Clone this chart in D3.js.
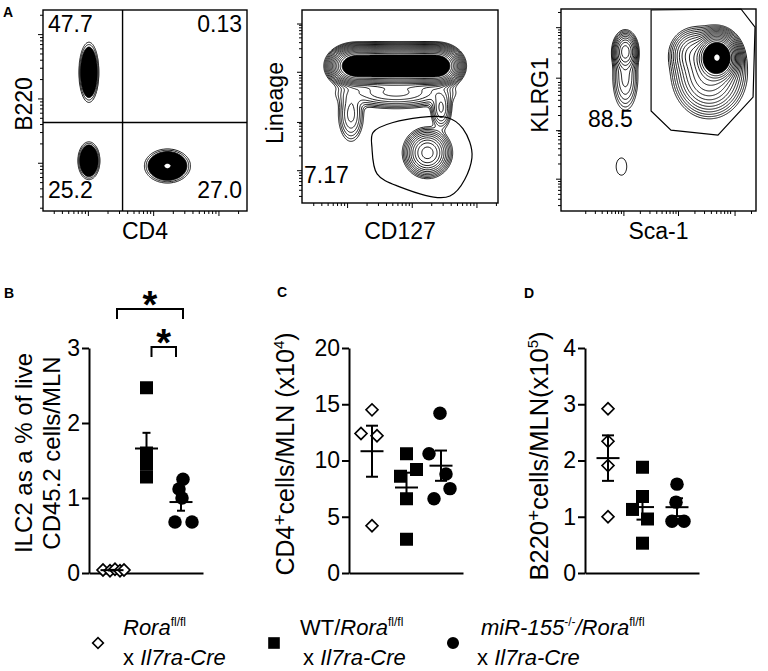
<!DOCTYPE html>
<html>
<head>
<meta charset="utf-8">
<script src="https://d3js.org/d3.v7.min.js"></script>
<style>
body { margin: 0; background: #fff; }
svg text { font-family: "Liberation Sans", Arial, sans-serif; fill: #000; }
</style>
</head>
<body>
<div id="canvas"></div>
<script>
// ---- values ----
const groups = ["Rora fl/fl", "WT/Rora fl/fl", "miR-155-/-/Rora fl/fl"];

// B: ILC2 as a % of live CD45.2 cells/MLN
const ilc2Rora = [0.04, 0.03, 0.05, 0.03, 0.04];
const ilc2WT   = [2.47, 1.60, 1.50, 1.45, 1.28];
const ilc2Mir  = [1.25, 1.12, 1.00, 0.68, 0.68];
const ilc2Ticks = [0, 1, 2, 3];

// C: CD4+ cells/MLN (x10^4)
const cd4Rora = [14.5, 12.4, 12.2, 4.2];
const cd4WT   = [10.6, 8.6, 9.2, 6.6, 3.0];
const cd4Mir  = [14.2, 10.6, 8.8, 7.5, 6.6];
const cd4Ticks = [0, 5, 10, 15, 20];

// D: B220+ cells/MLN (x10^5)
const b220Rora = [2.92, 2.34, 1.91, 1.00];
const b220WT   = [1.88, 1.36, 1.13, 0.96, 0.53];
const b220Mir  = [1.58, 1.26, 0.92, 0.92];
const b220Ticks = [0, 1, 2, 3, 4];

// B: significance brackets (group index pairs)
const sigPairs = [[0, 2], [1, 2]];

// A: gate percentages
const quadLabels = ["47.7", "0.13", "25.2", "27.0"];
const linNegLabel = "7.17";
const klrgLabel = "88.5";

// A: populations as [x, y, sdX, sdY, weight] on a 0-100 display scale
const popsB220CD4 = [[22.5, 69, 1.4, 4.3, 0.85], [22.5, 25, 1.55, 2.7, 0.85], [61, 22.4, 3.2, 2.4, 1]];
const popsLinCD127 = [
  [27, 71, 4.5, 3.5, 1], [36, 71, 5, 3.5, 1], [45, 71, 5, 3.5, 1], [54, 71, 5, 3.5, 1],
  [63, 71, 5, 3.5, 1], [70, 71, 4, 3.5, 0.8],
  [48, 57, 13, 3.5, 0.03], [25, 46, 3.2, 7, 0.015], [71, 49, 2.5, 5, 0.02],
  [64, 26, 4.6, 4.8, 0.1]
];
const popsKlrgSca = [
  [33, 79, 2.6, 4, 0.07], [33, 66, 3.2, 8, 0.015], [31, 22, 3.5, 5.5, 0.0027],
  [80, 76, 3.8, 4.2, 1.66], [76, 68, 7, 8, 0.1], [68, 78, 5, 5, 0.04]
];

// A: gates
const quadCut = [39, 44];
const gateLin = [[36.2, 36.5], [46.4, 41.7], [74.0, 44.3], [82.1, 38.5], [86.7, 23.4],
                 [75.5, 3.6], [48.5, 8.9], [38.3, 15.1], [35.7, 28.6]];
const gateKlrg = [[46.2, 99.5], [92.3, 100], [99.5, 91], [98.5, 56.4], [80.5, 37.6],
                  [56.4, 40], [46.2, 49.5]];

// ---- layout ----
const W = 768, H = 671;
const svg = d3.select("#canvas").append("svg").attr("width", W).attr("height", H);

function panelLetter(t, x, y) {
  svg.append("text").text(t).attr("x", x).attr("y", y)
    .attr("font-size", 14).attr("font-weight", "bold");
}

function logTicks(majors, dec) {
  const out = [];
  const starts = [majors[0] - dec].concat(majors);
  starts.forEach(m => { for (let k = 2; k <= 9; k++) out.push(m + dec * Math.log10(k)); });
  return out.filter(v => v > 0.5 && v < 99.5);
}

function flowPanel(box, pops, levels, fillFrom, whiteFrom, tk) {
  const g = svg.append("g");
  const x = d3.scaleLinear().domain([0, 100]).range([box.x0, box.x1]);
  const y = d3.scaleLinear().domain([0, 100]).range([box.y1, box.y0]);
  const n = 200;
  const grid = new Float64Array(n * n);
  for (let j = 0; j < n; j++) for (let i = 0; i < n; i++) {
    const u = (i + 0.5) * 100 / n, v = (j + 0.5) * 100 / n;
    let s = 0;
    for (const p of pops) {
      const dx = (u - p[0]) / p[2], dy = (v - p[1]) / p[3];
      s += p[4] * Math.exp(-0.5 * (dx * dx + dy * dy));
    }
    grid[j * n + i] = s;
  }
  const id = "clip" + Math.round(box.x0);
  svg.append("clipPath").attr("id", id).append("rect")
    .attr("x", box.x0).attr("y", box.y0).attr("width", box.x1 - box.x0).attr("height", box.y1 - box.y0);
  const proj = d3.geoTransform({ point(px, py) { this.stream.point(x(px * 100 / n), y(py * 100 / n)); } });
  g.append("g").attr("clip-path", `url(#${id})`).selectAll("path")
    .data(d3.contours().size([n, n]).thresholds(levels)(grid))
    .join("path")
    .attr("d", d3.geoPath(proj))
    .attr("fill", d => d.value >= whiteFrom ? "#fff" : d.value >= fillFrom ? "#000" : "none")
    .attr("stroke", d => d.value >= whiteFrom ? "none" : "#000")
    .attr("stroke-width", 0.9).attr("stroke-linejoin", "round");

  // log-style ticks, major and minor
  [[tk.mx, 5], [logTicks(tk.mx, tk.dx), 3]].forEach(([vals, size]) => {
    g.append("g").attr("transform", `translate(0,${box.y1})`)
      .call(d3.axisBottom(x).tickValues(vals).tickSize(size).tickFormat(""))
      .call(a => a.select(".domain").remove())
      .selectAll("line").attr("stroke-width", 1);
  });
  [[tk.my, 5], [logTicks(tk.my, tk.dy), 3]].forEach(([vals, size]) => {
    g.append("g").attr("transform", `translate(${box.x0},0)`)
      .call(d3.axisLeft(y).tickValues(vals).tickSize(size).tickFormat(""))
      .call(a => a.select(".domain").remove())
      .selectAll("line").attr("stroke-width", 1);
  });
  g.append("rect").attr("x", box.x0).attr("y", box.y0)
    .attr("width", box.x1 - box.x0).attr("height", box.y1 - box.y0)
    .attr("fill", "none").attr("stroke", "#000").attr("stroke-width", 1.4);

  g.append("text").text(box.xl).attr("x", (box.x0 + box.x1) / 2).attr("y", 239)
    .attr("text-anchor", "middle").attr("font-size", 23);
  g.append("text").text(box.yl).attr("transform", `translate(${box.yx},${box.yc}) rotate(-90)`)
    .attr("text-anchor", "middle").attr("font-size", 23);
  return { g, x, y };
}

// ---- Panel A ----
panelLetter("A", 3, 17);

const a1 = flowPanel({ x0: 43, x1: 247, y0: 10, y1: 211, xl: "CD4", yl: "B220", yx: 32, yc: 104 },
  popsB220CD4, [0.002, 0.005, 0.012, 0.03, 0.9], 0.012, 0.9,
  { mx: [22, 54, 86], dx: 32, my: [24, 56, 88], dy: 32 });
a1.g.append("line").attr("x1", a1.x(quadCut[0])).attr("x2", a1.x(quadCut[0]))
  .attr("y1", a1.y(0)).attr("y2", a1.y(100)).attr("stroke", "#000").attr("stroke-width", 1.4);
a1.g.append("line").attr("x1", a1.x(0)).attr("x2", a1.x(100))
  .attr("y1", a1.y(quadCut[1])).attr("y2", a1.y(quadCut[1])).attr("stroke", "#000").attr("stroke-width", 1.4);
[[48, 32, "start"], [242, 32, "end"], [48, 198, "start"], [242, 198, "end"]].forEach(([qx, qy, anc], i) => {
  a1.g.append("text").text(quadLabels[i]).attr("x", qx).attr("y", qy)
    .attr("text-anchor", anc).attr("font-size", 23);
});

const flowLevels = d3.range(19).map(k => 0.002 * Math.pow(1.45, k));
const a2 = flowPanel({ x0: 302, x1: 498, y0: 10, y1: 203, xl: "CD127", yl: "Lineage", yx: 283, yc: 103 },
  popsLinCD127, flowLevels, 0.3, 99,
  { mx: [23, 56, 89], dx: 33, my: [17, 42, 68, 93], dy: 25.5 });
a2.g.append("path").datum(gateLin)
  .attr("d", d3.line().x(d => a2.x(d[0])).y(d => a2.y(d[1])).curve(d3.curveCatmullRomClosed.alpha(0.5)))
  .attr("fill", "none").attr("stroke", "#000").attr("stroke-width", 1.2);
a2.g.append("text").text(linNegLabel).attr("x", 304).attr("y", 183).attr("font-size", 23);

const a3 = flowPanel({ x0: 561, x1: 756, y0: 9, y1: 211, xl: "Sca-1", yl: "KLRG1", yx: 548, yc: 95 },
  popsKlrgSca, flowLevels, 0.3, 1.5,
  { mx: [32, 60, 89], dx: 28, my: [16, 40, 66, 91], dy: 25 });
a3.g.append("path").datum(gateKlrg)
  .attr("d", d3.line().x(d => a3.x(d[0])).y(d => a3.y(d[1])).curve(d3.curveLinearClosed))
  .attr("fill", "none").attr("stroke", "#000").attr("stroke-width", 1.2);
a3.g.append("text").text(klrgLabel).attr("x", 588).attr("y", 127).attr("font-size", 23);

// ---- Panels B, C, D ----
const symDiamond = d3.symbol(d3.symbolSquare, 72);
const symSquare = d3.symbol(d3.symbolSquare, 169);
const symCircle = d3.symbol(d3.symbolCircle, 143);

function drawMarker(g, gi, cx, cy, scale) {
  const s = scale || 1;
  if (gi === 0) {
    g.append("path").attr("d", symDiamond.size(72 * s)()).attr("transform", `translate(${cx},${cy}) rotate(45)`)
      .attr("fill", "#fff").attr("stroke", "#000").attr("stroke-width", 1.6);
  } else if (gi === 1) {
    g.append("path").attr("d", symSquare.size(169 * s)()).attr("transform", `translate(${cx},${cy})`).attr("fill", "#000");
  } else {
    g.append("path").attr("d", symCircle.size(143 * s)()).attr("transform", `translate(${cx},${cy})`).attr("fill", "#000");
  }
}

function scatterPanel(x0, yMax, ticks, sets, jit, capW) {
  const g = svg.append("g");
  const y = d3.scaleLinear().domain([0, yMax]).range([573, 348]);
  const x = d3.scalePoint().domain(groups).range([x0 + 23, x0 + 92]);
  const xa = d3.scaleLinear().range([x0, x0 + 114]);

  g.append("g").attr("transform", `translate(${x0},0)`)
    .call(d3.axisLeft(y).tickValues(ticks).tickFormat(d3.format("d")).tickSize(7).tickPadding(2).tickSizeOuter(0))
    .call(a => a.selectAll("line, path").attr("stroke-width", 2))
    .call(a => a.selectAll("text").attr("font-size", 23).attr("font-family", "Liberation Sans, Arial, sans-serif"));
  g.append("g").attr("transform", `translate(0,${y(0)})`)
    .call(d3.axisBottom(xa).tickValues([]).tickSizeOuter(0))
    .selectAll("path").attr("stroke-width", 2);

  sets.forEach((vals, gi) => {
    vals.forEach((v, k) => drawMarker(g, gi, x(groups[gi]) + jit[gi][k], y(v)));
  });
  sets.forEach((vals, gi) => {
    const cx = x(groups[gi]);
    const m = d3.mean(vals), sem = d3.deviation(vals) / Math.sqrt(vals.length);
    const seg = (x1, x2, y1, y2) => g.append("line").attr("x1", x1).attr("x2", x2)
      .attr("y1", y1).attr("y2", y2).attr("stroke", "#000").attr("stroke-width", 2);
    seg(cx - 11.5, cx + 11.5, y(m), y(m));
    seg(cx, cx, y(m - sem), y(m + sem));
    seg(cx - capW / 2, cx + capW / 2, y(m + sem), y(m + sem));
    seg(cx - capW / 2, cx + capW / 2, y(m - sem), y(m - sem));
  });
  return { g, x, y };
}

function rotLabel(x, y, size, parts) {
  const t = svg.append("text").attr("transform", `translate(${x},${y}) rotate(-90)`)
    .attr("text-anchor", "middle").attr("font-size", size);
  parts.forEach(([s, fs, dy]) => {
    const sp = t.append("tspan").text(s);
    if (fs) sp.attr("font-size", fs);
    if (dy) sp.attr("dy", dy);
  });
}

// B
panelLetter("B", 4, 298);
const pB = scatterPanel(89, 3, ilc2Ticks, [ilc2Rora, ilc2WT, ilc2Mir],
  [[-9, -2, 3, 8, 12], [0, 0, 0, 0, 0], [2, -2, 1, -6, 11]], 8);
const brackY = [309, 347];
sigPairs.forEach(([a, b], i) => {
  const xa = pB.x(groups[a]) + 5, xb = pB.x(groups[b]) + (i === 0 ? 2 : -5);
  pB.g.append("path")
    .attr("d", `M${xa},${brackY[i] + 10}V${brackY[i]}H${xb}V${brackY[i] + 10}`)
    .attr("fill", "none").attr("stroke", "#000").attr("stroke-width", 2);
  pB.g.append("text").text("*").attr("x", (xa + xb) / 2).attr("y", brackY[i] + 9)
    .attr("text-anchor", "middle").attr("font-size", 38).attr("font-weight", "bold");
});
rotLabel(32, 453, 24, [["ILC2 as a % of live"]]);
rotLabel(60, 453, 24, [["CD45.2 cells/MLN"]]);

// C
panelLetter("C", 277, 297);
scatterPanel(349, 20, cd4Ticks, [cd4Rora, cd4WT, cd4Mir],
  [[0, -11, 5, 0], [0, -6, 10, 0, 0], [-1, -12, 5, 9, -7]], 12);
rotLabel(294, 454, 25, [["CD4"], ["+", 19, -8], ["cells/MLN (x10", 0, 8], ["4", 15, -10], [")", 0, 10]]);

// D
panelLetter("D", 524, 298);
scatterPanel(585, 4, b220Ticks, [b220Rora, b220WT, b220Mir],
  [[0, 0, 0, 0], [0, 0, -10, 5, 0], [0, -1, -5, 7]], 12);
rotLabel(548, 456, 25.5, [["B220"], ["+", 19, -8], ["cells/MLN(x10", 0, 8], ["5", 15, -10], [")", 0, 10]]);

// ---- legend ----
const legMarkX = [98, 274, 453];
const leg = svg.append("g");
legMarkX.forEach((mx, gi) => drawMarker(leg, gi, mx, 643, 0.8));

function sup(t, s) {
  t.append("tspan").text(s).attr("font-size", 12).attr("dy", -9);
  return t;
}
const l1 = leg.append("text").attr("x", 123).attr("y", 635).attr("font-size", 22);
l1.append("tspan").text("Rora").attr("font-style", "italic");
sup(l1, "fl/fl");
const l2 = leg.append("text").attr("x", 300).attr("y", 635).attr("font-size", 22);
l2.append("tspan").text("WT/");
l2.append("tspan").text("Rora").attr("font-style", "italic");
sup(l2, "fl/fl");
const l3 = leg.append("text").attr("x", 481).attr("y", 635).attr("font-size", 22);
l3.append("tspan").text("miR-155").attr("font-style", "italic");
sup(l3, "-/-");
l3.append("tspan").text("/Rora").attr("font-style", "italic").attr("dy", 9);
sup(l3, "fl/fl");
[123, 303, 477].forEach(lx => {
  const t = leg.append("text").attr("x", lx).attr("y", 665).attr("font-size", 22);
  t.append("tspan").text("x ");
  t.append("tspan").text("Il7ra-Cre").attr("font-style", "italic");
});
</script>
</body>
</html>
